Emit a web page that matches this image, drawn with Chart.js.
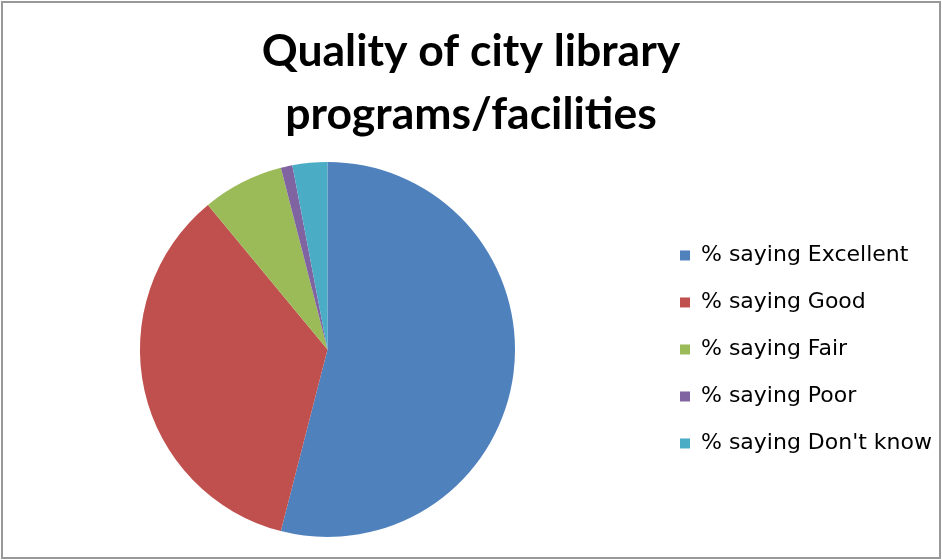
<!DOCTYPE html>
<html>
<head>
<meta charset="utf-8">
<script src="https://cdn.jsdelivr.net/npm/chart.js@4/dist/chart.umd.min.js"></script>
<style>
  html, body { margin: 0; padding: 0; background: #fff; }
  #wrap { position: relative; width: 942px; height: 560px; }
  #frame {
    position: absolute; left: 1px; top: 1px; width: 936px; height: 554px;
    border: 2px solid #999; pointer-events: none;
  }
  canvas { position: absolute; left: 0; top: 0; }
</style>
</head>
<body>
<div id="wrap">
  <canvas id="chart" width="942" height="560"></canvas>
  <div id="frame"></div>
</div>
<script>
// Survey responses: quality of city library programs/facilities (percent)
const categories = [
  "% saying Excellent",
  "% saying Good",
  "% saying Fair",
  "% saying Poor",
  "% saying Don't know"
];
const percentages = [54, 35, 7, 1, 3];
const sliceColors = ["#4F81BD", "#C0504D", "#9BBB59", "#8064A2", "#4BACC6"];
const titleLines = ["Quality of city library", "programs/facilities"];

new Chart(document.getElementById("chart"), {
  type: "pie",
  data: {
    labels: categories,
    datasets: [{
      data: percentages,
      backgroundColor: sliceColors,
      borderWidth: 0
    }]
  },
  options: {
    responsive: false,
    maintainAspectRatio: false,
    devicePixelRatio: 1,
    animation: false,
    layout: { padding: { left: 0, right: 0, top: 0, bottom: 23 } },
    plugins: {
      title: {
        display: true,
        text: titleLines,
        color: "#000",
        font: { family: "Lato, 'Open Sans', sans-serif", size: 44.5, weight: "bold", lineHeight: 1.415 },
        padding: { top: 20, bottom: 16 }
      },
      legend: {
        position: "right",
        fullSize: false,
        labels: {
          boxWidth: 10,
          boxHeight: 10,
          padding: 25,
          color: "#000",
          font: { family: "'DejaVu Sans', sans-serif", size: 22 }
        }
      },
      tooltip: { enabled: false }
    }
  }
});
</script>
</body>
</html>
